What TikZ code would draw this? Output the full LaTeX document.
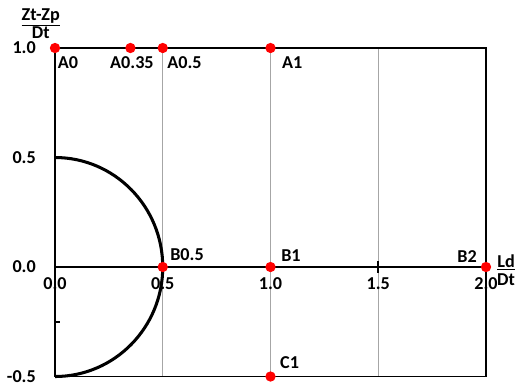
\documentclass[tikz,border=0pt]{standalone}
\usepackage{fontspec}
\setmainfont{Carlito}
\usetikzlibrary{positioning}

\begin{document}
\begin{tikzpicture}[x=6.465cm, y=6.57cm]

\tikzset{
  frame/.style={draw, line width=1.6pt},
  gridline/.style={draw, black!35, line width=0.6pt},
  halfcircle/.style={draw, line width=2.6pt},
  dot/.style={circle, fill=red, inner sep=0pt, minimum size=0.31cm},
  lbl/.style={font=\bfseries\fontsize{15.5}{15}\selectfont, inner sep=0pt},
  ticklbl/.style={lbl}
}

\useasboundingbox (-0.2552,-0.5479) rectangle (2.1856,1.2192);

% ==========================
% Grid, frame and axis
% ==========================
\foreach \gx in {0.5,1.0,1.5}
  \draw[gridline] (\gx,-0.5) -- (\gx,1);
\draw[frame] (0,-0.5) rectangle (2,1);
\draw[frame] (0,0) -- (2,0);
\draw[frame] (1.5,-0.027) -- (1.5,0.027);
\draw[frame] (0,-0.25) -- (0.022,-0.25);

% Tick labels
\foreach \gy/\ty in {1/1.0,0.5/0.5,0/0.0,-0.5/-0.5}
  \node[ticklbl, anchor=east] at (-0.088,\gy) {\ty};
\foreach \gx/\tx in {0/0.0,0.5/0.5,1/1.0,1.5/1.5,2/2.0}
  \node[ticklbl] at (\gx,-0.075) {\tx};

% Axis titles
\node[lbl, align=center] (ytitle) at (-0.066,1.112) {\underline{Zt-Zp}\\Dt};
\node[lbl, align=center] (xtitle) at (2.093,-0.014) {\underline{Ld}\\Dt};

% ==========================
% Half circle
% ==========================
\draw[halfcircle] (0,0.5) arc[start angle=90, end angle=-90, radius=0.5];

% ==========================
% Points and labels
% ==========================
\node[dot] (A0) at (0,1) {};
\node[dot] (A035) at (0.35,1) {};
\node[dot] (A05) at (0.5,1) {};
\node[dot] (A1) at (1,1) {};
\node[dot] (B05) at (0.5,0) {};
\node[dot] (B1) at (1,0) {};
\node[dot] (B2) at (2,0) {};
\node[dot] (C1) at (1,-0.5) {};

\node[lbl, anchor=west] (lA0) at (0.012,0.934) {A0};
\node[lbl] (lA035) at (0.357,0.932) {A0.35};
\node[lbl, anchor=west] (lA05) at (0.52,0.932) {A0.5};
\node[lbl, anchor=west] (lA1) at (1.053,0.932) {A1};
\node[lbl, anchor=west] (lB05) at (0.534,0.055) {B0.5};
\node[lbl, anchor=west] (lB1) at (1.049,0.05) {B1};
\node[lbl, anchor=east] (lB2) at (1.958,0.046) {B2};
\node[lbl, anchor=west] (lC1) at (1.044,-0.438) {C1};

\end{tikzpicture}
\end{document}
